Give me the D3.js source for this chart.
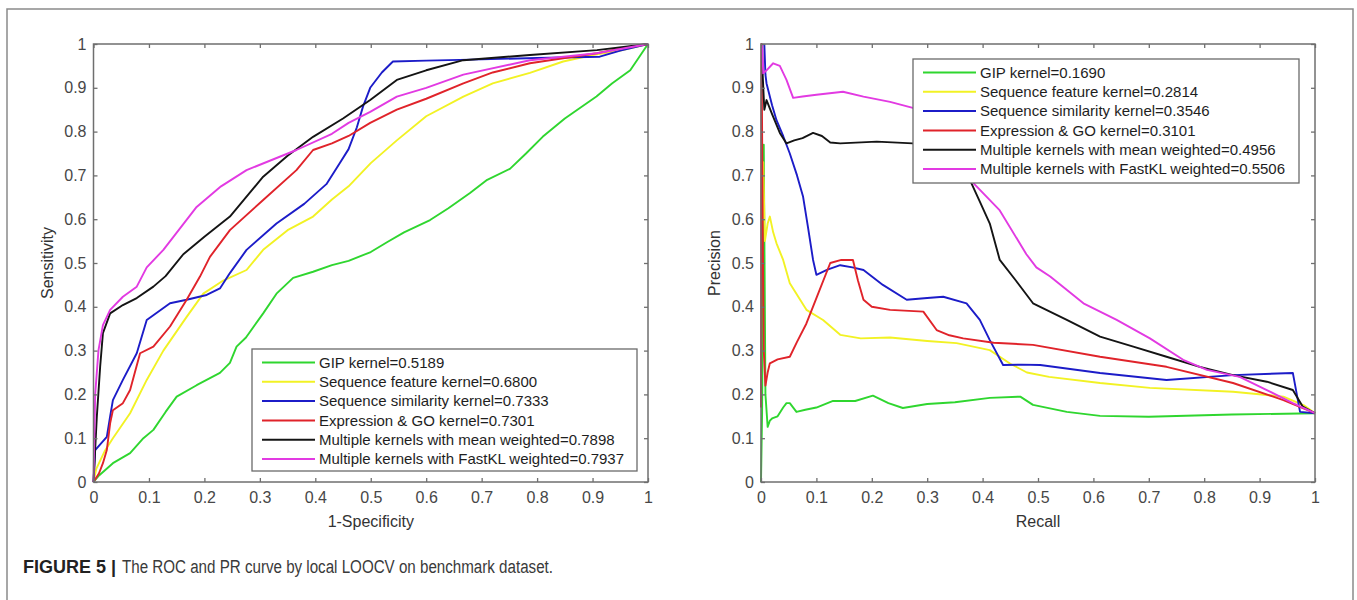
<!DOCTYPE html>
<html>
<head>
<meta charset="utf-8">
<title>ROC and PR curves</title>
<script src="https://d3js.org/d3.v7.min.js"></script>
<style>
  body { margin: 0; background: #fff; }
  text { font-family: "Liberation Sans", Arial, Helvetica, sans-serif; }
</style>
</head>
<body>
<div id="chart"></div>
<script>
// ---- data ----
var tickValues = [0, 0.1, 0.2, 0.3, 0.4, 0.5, 0.6, 0.7, 0.8, 0.9, 1];
var tickLabels = ["0", "0.1", "0.2", "0.3", "0.4", "0.5", "0.6", "0.7", "0.8", "0.9", "1"];

var seriesNames = ["GIP kernel", "Sequence feature kernel", "Sequence similarity kernel",
  "Expression & GO kernel", "Multiple kernels with mean weighted", "Multiple kernels with FastKL weighted"];
var seriesColors = ["#2fd62f", "#f2f224", "#1c1cc8", "#e0232a", "#141414", "#e23ae2"];
var rocAUC = ["0.5189", "0.6800", "0.7333", "0.7301", "0.7898", "0.7937"];
var prAUC = ["0.1690", "0.2814", "0.3546", "0.3101", "0.4956", "0.5506"];

// ROC curves: [1-specificity, sensitivity]
var rocGIP = [[0,0],[0.01,0.015],[0.035,0.043],[0.066,0.066],[0.09,0.1],[0.108,0.119],[0.13,0.16],[0.15,0.195],[0.186,0.221],[0.228,0.249],[0.246,0.272],[0.258,0.309],[0.275,0.33],[0.306,0.385],[0.33,0.43],[0.36,0.466],[0.396,0.48],[0.43,0.495],[0.46,0.505],[0.5,0.525],[0.53,0.548],[0.56,0.57],[0.607,0.598],[0.64,0.625],[0.679,0.66],[0.71,0.69],[0.751,0.715],[0.78,0.75],[0.81,0.788],[0.85,0.83],[0.907,0.88],[0.935,0.91],[0.968,0.94],[1,1]];
var rocSeqFeat = [[0,0],[0.005,0.03],[0.02,0.07],[0.035,0.1],[0.066,0.157],[0.096,0.233],[0.126,0.3],[0.168,0.377],[0.198,0.43],[0.234,0.46],[0.276,0.484],[0.306,0.53],[0.35,0.575],[0.396,0.606],[0.43,0.645],[0.46,0.675],[0.5,0.728],[0.547,0.78],[0.6,0.835],[0.667,0.88],[0.72,0.91],[0.787,0.934],[0.847,0.96],[0.9,0.975],[0.95,0.985],[1,1]];
var rocSeqSim = [[0,0],[0.003,0.073],[0.024,0.103],[0.03,0.15],[0.035,0.187],[0.053,0.233],[0.078,0.294],[0.096,0.37],[0.138,0.408],[0.168,0.416],[0.204,0.427],[0.228,0.442],[0.246,0.477],[0.276,0.53],[0.33,0.59],[0.38,0.635],[0.42,0.68],[0.444,0.728],[0.46,0.76],[0.475,0.81],[0.486,0.857],[0.499,0.9],[0.52,0.935],[0.54,0.96],[0.6,0.962],[0.7,0.965],[0.8,0.968],[0.913,0.971],[0.95,0.985],[1,1]];
var rocExprGO = [[0,0],[0.01,0.02],[0.017,0.043],[0.024,0.073],[0.03,0.134],[0.035,0.164],[0.053,0.18],[0.066,0.21],[0.084,0.294],[0.108,0.309],[0.138,0.355],[0.168,0.416],[0.192,0.469],[0.21,0.514],[0.246,0.575],[0.306,0.644],[0.366,0.712],[0.396,0.758],[0.43,0.773],[0.46,0.79],[0.499,0.82],[0.547,0.85],[0.6,0.875],[0.667,0.91],[0.72,0.935],[0.787,0.956],[0.85,0.968],[0.908,0.979],[0.95,0.99],[1,1]];
var rocMean = [[0,0],[0.006,0.149],[0.012,0.263],[0.017,0.34],[0.03,0.385],[0.053,0.404],[0.078,0.42],[0.108,0.446],[0.13,0.47],[0.162,0.52],[0.2,0.56],[0.246,0.606],[0.306,0.697],[0.35,0.745],[0.396,0.788],[0.45,0.83],[0.499,0.872],[0.547,0.918],[0.6,0.94],[0.667,0.963],[0.787,0.975],[0.908,0.986],[1,1]];
var rocFastKL = [[0,0],[0.003,0.2],[0.009,0.301],[0.017,0.358],[0.03,0.393],[0.053,0.423],[0.078,0.446],[0.096,0.49],[0.126,0.53],[0.186,0.628],[0.23,0.675],[0.276,0.712],[0.366,0.758],[0.43,0.795],[0.46,0.82],[0.499,0.845],[0.547,0.88],[0.6,0.9],[0.667,0.93],[0.787,0.963],[0.908,0.979],[1,1]];

// PR curves: [recall, precision]
var prGIP = [[0,0],[0.002,0.16],[0.005,0.77],[0.008,0.2],[0.012,0.126],[0.016,0.14],[0.02,0.145],[0.03,0.15],[0.04,0.17],[0.046,0.18],[0.052,0.18],[0.064,0.16],[0.08,0.165],[0.1,0.17],[0.13,0.185],[0.17,0.185],[0.202,0.197],[0.23,0.18],[0.256,0.169],[0.3,0.178],[0.35,0.182],[0.413,0.192],[0.468,0.195],[0.491,0.176],[0.552,0.16],[0.612,0.151],[0.7,0.149],[0.85,0.154],[1,0.157]];
var prSeqFeat = [[0.002,0.55],[0.004,0.73],[0.007,0.55],[0.012,0.59],[0.016,0.606],[0.022,0.57],[0.028,0.545],[0.04,0.507],[0.052,0.454],[0.082,0.393],[0.112,0.37],[0.143,0.336],[0.18,0.328],[0.233,0.33],[0.3,0.322],[0.353,0.317],[0.413,0.301],[0.45,0.27],[0.48,0.25],[0.52,0.24],[0.612,0.226],[0.702,0.215],[0.852,0.206],[0.943,0.195],[0.98,0.175],[1,0.157]];
var prSeqSim = [[0.006,1.0],[0.008,0.93],[0.01,0.91],[0.02,0.86],[0.028,0.826],[0.04,0.79],[0.052,0.75],[0.065,0.7],[0.076,0.651],[0.085,0.58],[0.094,0.507],[0.1,0.473],[0.12,0.485],[0.143,0.495],[0.165,0.49],[0.185,0.484],[0.22,0.45],[0.263,0.416],[0.3,0.42],[0.329,0.423],[0.371,0.408],[0.395,0.37],[0.413,0.324],[0.437,0.267],[0.47,0.268],[0.504,0.267],[0.612,0.249],[0.732,0.233],[0.852,0.244],[0.96,0.249],[0.973,0.16],[1,0.157]];
var prExprGO = [[0,0.17],[0.001,1.0],[0.003,0.6],[0.005,0.3],[0.008,0.22],[0.012,0.25],[0.016,0.271],[0.03,0.28],[0.052,0.286],[0.065,0.32],[0.082,0.362],[0.1,0.42],[0.125,0.5],[0.145,0.507],[0.166,0.507],[0.175,0.46],[0.185,0.416],[0.2,0.4],[0.233,0.393],[0.293,0.389],[0.317,0.347],[0.34,0.335],[0.365,0.328],[0.42,0.318],[0.491,0.313],[0.612,0.286],[0.732,0.263],[0.852,0.226],[0.943,0.187],[1,0.157]];
var prMean = [[0.002,1.0],[0.003,0.93],[0.006,0.85],[0.01,0.872],[0.02,0.84],[0.034,0.797],[0.046,0.773],[0.06,0.78],[0.075,0.785],[0.094,0.797],[0.11,0.79],[0.125,0.775],[0.143,0.773],[0.209,0.777],[0.274,0.773],[0.33,0.775],[0.36,0.76],[0.377,0.69],[0.395,0.64],[0.413,0.59],[0.431,0.507],[0.46,0.46],[0.491,0.408],[0.552,0.37],[0.612,0.332],[0.672,0.309],[0.732,0.286],[0.792,0.263],[0.852,0.244],[0.913,0.229],[0.96,0.21],[0.978,0.172],[1,0.157]];
var prFastKL = [[0.002,1.0],[0.004,0.933],[0.01,0.94],[0.022,0.956],[0.034,0.95],[0.046,0.918],[0.058,0.877],[0.075,0.88],[0.1,0.884],[0.148,0.891],[0.185,0.88],[0.233,0.868],[0.274,0.854],[0.3,0.85],[0.34,0.8],[0.383,0.683],[0.431,0.62],[0.479,0.52],[0.497,0.49],[0.522,0.469],[0.582,0.408],[0.642,0.37],[0.702,0.328],[0.762,0.279],[0.805,0.256],[0.864,0.24],[0.913,0.21],[0.96,0.18],[1,0.157]];

var rocSeries = [rocGIP, rocSeqFeat, rocSeqSim, rocExprGO, rocMean, rocFastKL];
var prSeries = [prGIP, prSeqFeat, prSeqSim, prExprGO, prMean, prFastKL];

// ---- page ----
var width = 1357, height = 600;
var svg = d3.select("#chart").append("svg")
  .attr("width", width).attr("height", height)
  .style("display", "block");

svg.append("rect").attr("width", width).attr("height", height).attr("fill", "#fff");

// outer figure frame (bottom edge runs off the picture)
svg.append("path")
  .attr("d", "M7,610 V9 H1353 V610")
  .attr("fill", "none").attr("stroke", "#8a8a8a").attr("stroke-width", 1.5);

function drawPanel(p) {
  var x = d3.scaleLinear().domain([0, 1]).range([p.left, p.right]);
  var y = d3.scaleLinear().domain([0, 1]).range([p.bottom, p.top]);
  var g = svg.append("g");

  // curves
  var line = d3.line().x(function(d) { return x(d[0]); }).y(function(d) { return y(d[1]); });
  p.series.forEach(function(s, i) {
    g.append("path").datum(s)
      .attr("d", line)
      .attr("fill", "none")
      .attr("stroke", seriesColors[i])
      .attr("stroke-width", 1.9)
      .attr("stroke-linejoin", "round");
  });

  // axes, ticks pointing inward on all four sides
  var fmt = function(d, i) { return tickLabels[i]; };
  var blank = function() { return ""; };
  var axB = g.append("g").attr("transform", "translate(0," + p.bottom + ")")
    .call(d3.axisBottom(x).tickValues(tickValues).tickFormat(fmt).tickSizeInner(-4).tickSizeOuter(0).tickPadding(10));
  var axL = g.append("g").attr("transform", "translate(" + p.left + ",0)")
    .call(d3.axisLeft(y).tickValues(tickValues).tickFormat(fmt).tickSizeInner(-4).tickSizeOuter(0).tickPadding(7));
  var axT = g.append("g").attr("transform", "translate(0," + p.top + ")")
    .call(d3.axisTop(x).tickValues(tickValues).tickFormat(blank).tickSizeInner(-4).tickSizeOuter(0));
  var axR = g.append("g").attr("transform", "translate(" + p.right + ",0)")
    .call(d3.axisRight(y).tickValues(tickValues).tickFormat(blank).tickSizeInner(-4).tickSizeOuter(0));
  [axB, axL, axT, axR].forEach(function(a) {
    a.select(".domain").remove();
    a.selectAll(".tick line").attr("stroke", "#6f6f6f").attr("stroke-width", 1.3);
    a.selectAll("text").attr("fill", "#474747").style("font-size", "16px")
      .style("font-family", "'Liberation Sans', Arial, sans-serif");
  });

  g.append("rect")
    .attr("x", p.left).attr("y", p.top)
    .attr("width", p.right - p.left).attr("height", p.bottom - p.top)
    .attr("fill", "none").attr("stroke", "#6f6f6f").attr("stroke-width", 1.5);

  // axis titles
  g.append("text")
    .attr("x", (p.left + p.right) / 2).attr("y", p.bottom + 45)
    .attr("text-anchor", "middle").attr("fill", "#333").style("font-size", "16px")
    .text(p.xTitle);
  g.append("text")
    .attr("transform", "translate(" + p.yTitleX + "," + (p.top + p.bottom) / 2 + ") rotate(-90)")
    .attr("text-anchor", "middle").attr("fill", "#333").style("font-size", "16px")
    .text(p.yTitle);

  // legend
  var lg = g.append("g").attr("transform", "translate(" + p.legX + "," + p.legY + ")");
  lg.append("rect")
    .attr("width", p.legW).attr("height", p.legH)
    .attr("fill", "#fff").attr("stroke", "#6a6a6a").attr("stroke-width", 1.3);
  seriesNames.forEach(function(name, i) {
    var cy = 13.5 + i * 19.3;
    lg.append("line")
      .attr("x1", 10).attr("x2", 63).attr("y1", cy).attr("y2", cy)
      .attr("stroke", seriesColors[i]).attr("stroke-width", 2);
    lg.append("text")
      .attr("x", 67).attr("y", cy + 5.3)
      .attr("fill", "#1e1e1e").style("font-size", "15px")
      .text(name + "=" + p.auc[i]);
  });
}

drawPanel({
  left: 93.5, right: 648, top: 44, bottom: 482,
  series: rocSeries, auc: rocAUC,
  xTitle: "1-Specificity", yTitle: "Sensitivity", yTitleX: 53,
  legX: 252, legY: 349, legW: 385, legH: 122
});

drawPanel({
  left: 761, right: 1315, top: 44, bottom: 482,
  series: prSeries, auc: prAUC,
  xTitle: "Recall", yTitle: "Precision", yTitleX: 720,
  legX: 913, legY: 59, legW: 386, legH: 124
});

// caption
svg.append("text")
  .attr("x", 23).attr("y", 573)
  .attr("fill", "#222").style("font-size", "18px").style("font-weight", "bold")
  .text("FIGURE 5 |");
svg.append("text")
  .attr("x", 122).attr("y", 573)
  .attr("fill", "#3a3a3a").style("font-size", "18px")
  .attr("textLength", 431).attr("lengthAdjust", "spacingAndGlyphs")
  .text("The ROC and PR curve by local LOOCV on benchmark dataset.");
</script>
</body>
</html>
